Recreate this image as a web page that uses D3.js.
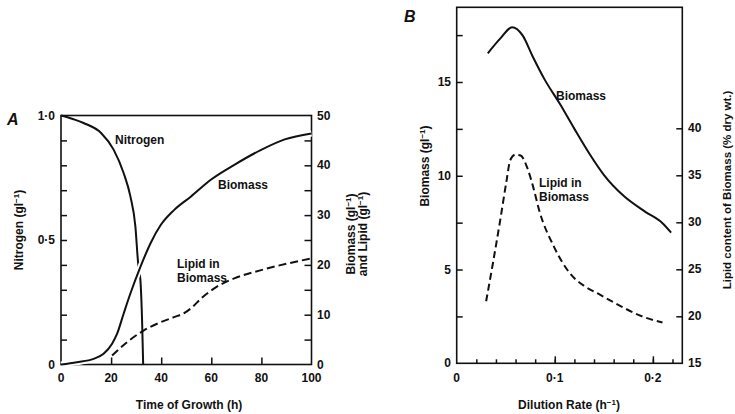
<html>
  <head>
    <meta charset="utf-8">
    <script src="https://cdn.jsdelivr.net/npm/d3@7"></script>
    <style>
      body { margin: 0; background: #fff; }
      text { font-family: "Liberation Sans", Arial, sans-serif; font-weight: bold; font-size: 12px; fill: #111; }
    </style>
    <script>
      // panel A: batch culture
      var timeN = [0, 5, 9, 16, 21, 25, 27.7, 29.7, 30.8, 31.7, 32.4, 32.8];
      var nitrogen = [1.0, 0.985, 0.97, 0.93, 0.863, 0.769, 0.675, 0.554, 0.406, 0.339, 0.165, 0];
      var timeBio = [0, 6.3, 13, 17, 20.4, 22.4, 25, 27.7, 31.7, 35.7, 39.8, 45.1, 51.8, 59.8, 69.2, 79.9, 89.3, 100];
      var biomassA = [0, 0.47, 1.14, 2.15, 4.17, 6.18, 10.2, 14.25, 19.6, 24.3, 28.0, 31.0, 33.7, 37.1, 40.1, 43.1, 45.2, 46.4];
      var timeLip = [20.4, 26.4, 33.1, 39.8, 45.1, 49.8, 52.5, 55.8, 61.2, 69.2, 79.9, 90.6, 100];
      var lipidA = [1.8, 4.5, 6.85, 8.5, 9.5, 10.5, 11.55, 13.2, 15.3, 17.3, 18.95, 20.3, 21.3];

      // panel B: continuous culture
      var dilBio = [0.0317, 0.045, 0.0564, 0.067, 0.0776, 0.09, 0.105, 0.12, 0.135, 0.15, 0.171, 0.192, 0.2098, 0.2186];
      var biomassB = [16.53, 17.35, 17.92, 17.5, 16.35, 15.1, 13.85, 12.5, 11.2, 10.05, 8.89, 8.09, 7.47, 6.97];
      var dilLip = [0.03, 0.037, 0.044, 0.0511, 0.0545, 0.0599, 0.0652, 0.0723, 0.0776, 0.0847, 0.0987, 0.1164, 0.1305, 0.146, 0.1675, 0.1887, 0.2098];
      var lipidB = [21.6, 25.7, 30.0, 34.6, 36.6, 37.2, 37.1, 35.7, 33.9, 31.06, 27.5, 24.45, 23.2, 22.3, 21.06, 20.0, 19.35];

      var ticksTimeA = [0, 20, 40, 60, 80, 100];
      var ticksNitro = [0, 0.5, 1.0];
      var ticksBioA = [0, 10, 20, 30, 40, 50];
      var ticksDil = [0, 0.1, 0.2];
      var ticksBioB = [0, 5, 10, 15];
      var ticksLipB = [15, 20, 25, 30, 35, 40];

      function fmt1(v) { return v.toFixed(1).replace(".", "\u00b7"); }
      var inv = "<tspan dy='-4' style='font-size:8px'>\u22121</tspan><tspan dy='4'>)</tspan>";

      function load() {
        var svg = d3.select("svg");

        function zip(xs, ys) { return xs.map(function(x, i) { return [x, ys[i]]; }); }

        function frame(g, x0, x1, y0, y1) {
          g.append("rect").attr("x", x0).attr("y", y0)
            .attr("width", x1 - x0).attr("height", y1 - y0)
            .attr("fill", "none").attr("stroke", "#111").attr("stroke-width", 1.6);
        }
        function tickStyle(g) {
          g.select(".domain").remove();
          g.selectAll("line").attr("stroke", "#111").attr("stroke-width", 1.5);
        }

        // ---------- Panel A ----------
        var gA = svg.append("g");
        var xA = d3.scaleLinear().domain([0, 100]).range([61, 311.5]);
        var yN = d3.scaleLinear().domain([0, 1]).range([364.5, 115.5]);
        var yB = d3.scaleLinear().domain([0, 50]).range([364.5, 115.5]);

        frame(gA, 61, 311.5, 115.5, 364.5);

        gA.append("g").attr("transform", "translate(0,364.5)")
          .call(d3.axisTop(xA).tickValues([20, 40, 60, 80]).tickSize(7).tickFormat("")).call(tickStyle);
        gA.append("g").attr("transform", "translate(61,0)")
          .call(d3.axisRight(yN).tickValues(d3.range(1, 10).map(function(i) { return i / 10; })).tickSize(6).tickFormat("")).call(tickStyle);
        gA.append("g").attr("transform", "translate(311.5,0)")
          .call(d3.axisLeft(yB).tickValues(d3.range(5, 50, 5)).tickSize(7).tickFormat("")).call(tickStyle);

        gA.selectAll(".tx").data(ticksTimeA).enter().append("text")
          .attr("x", function(d) { return xA(d); }).attr("y", 382)
          .attr("text-anchor", "middle").text(function(d) { return d; });
        gA.selectAll(".tn").data(ticksNitro).enter().append("text")
          .attr("x", 55).attr("y", function(d) { return yN(d) + 4; })
          .attr("text-anchor", "end").text(function(d) { return d === 0 ? "0" : fmt1(d); });
        gA.selectAll(".tb").data(ticksBioA).enter().append("text")
          .attr("x", 317).attr("y", function(d) { return yB(d) + 4; })
          .text(function(d) { return d; });

        gA.append("text").attr("x", 189).attr("y", 409).attr("text-anchor", "middle").text("Time of Growth (h)");
        gA.append("text").attr("transform", "translate(23,230) rotate(-90)").attr("text-anchor", "middle")
          .html("Nitrogen (gl" + inv);
        gA.append("text").attr("transform", "translate(355,234) rotate(-90)").attr("text-anchor", "middle")
          .html("Biomass (gl" + inv);
        gA.append("text").attr("transform", "translate(367,234) rotate(-90)").attr("text-anchor", "middle")
          .html("and Lipid (gl" + inv);
        gA.append("text").attr("x", 7).attr("y", 125).style("font-size", "16px").style("font-style", "italic").text("A");

        var lineN = d3.line().x(function(d) { return xA(d[0]); }).y(function(d) { return yN(d[1]); }).curve(d3.curveMonotoneX);
        var lineBA = d3.line().x(function(d) { return xA(d[0]); }).y(function(d) { return yB(d[1]); }).curve(d3.curveMonotoneX);

        gA.append("path").attr("d", lineN(zip(timeN, nitrogen)))
          .attr("fill", "none").attr("stroke", "#111").attr("stroke-width", 2);
        // white halo makes the break in the nitrogen line
        gA.append("path").attr("d", lineBA(zip(timeBio, biomassA)))
          .attr("fill", "none").attr("stroke", "#fff").attr("stroke-width", 6);
        gA.append("path").attr("d", lineBA(zip(timeBio, biomassA)))
          .attr("fill", "none").attr("stroke", "#111").attr("stroke-width", 2);
        gA.append("path").attr("d", lineBA(zip(timeLip, lipidA)))
          .attr("fill", "none").attr("stroke", "#111").attr("stroke-width", 2).attr("stroke-dasharray", "8,4");

        gA.append("text").attr("x", 115).attr("y", 144).text("Nitrogen");
        gA.append("text").attr("x", 218).attr("y", 189).text("Biomass");
        gA.append("text").attr("x", 177).attr("y", 268).text("Lipid in");
        gA.append("text").attr("x", 177).attr("y", 282).text("Biomass");

        // ---------- Panel B ----------
        var gB = svg.append("g");
        var xD = d3.scaleLinear().domain([0, 0.23]).range([456.7, 682.3]);
        var yBB = d3.scaleLinear().domain([0, 15]).range([363.3, 82]);
        var yL = d3.scaleLinear().domain([15, 40]).range([363.3, 128.3]);

        frame(gB, 456.7, 682.3, 7.3, 363.3);

        gB.append("g").attr("transform", "translate(0,363.3)")
          .call(d3.axisTop(xD).tickValues(d3.range(1, 12).map(function(i) { return i * 0.02; })).tickSize(4).tickFormat("")).call(tickStyle);
        gB.append("g").attr("transform", "translate(0,363.3)")
          .call(d3.axisTop(xD).tickValues([0.1, 0.2]).tickSize(7).tickFormat("")).call(tickStyle);
        gB.append("g").attr("transform", "translate(456.7,0)")
          .call(d3.axisRight(yBB).tickValues([2.5, 5, 7.5, 10, 12.5, 15, 17.5]).tickSize(6).tickFormat("")).call(tickStyle);
        gB.append("g").attr("transform", "translate(682.3,0)")
          .call(d3.axisLeft(yL).tickValues([20, 25, 30, 35, 40]).tickSize(6).tickFormat("")).call(tickStyle);

        gB.selectAll(".tx").data(ticksDil).enter().append("text")
          .attr("x", function(d) { return xD(d); }).attr("y", 382)
          .attr("text-anchor", "middle").text(function(d) { return d === 0 ? "0" : fmt1(d); });
        gB.selectAll(".tl").data(ticksBioB).enter().append("text")
          .attr("x", 451).attr("y", function(d) { return yBB(d) + 4; })
          .attr("text-anchor", "end").text(function(d) { return d; });
        gB.selectAll(".tr").data(ticksLipB).enter().append("text")
          .attr("x", 688).attr("y", function(d) { return yL(d) + 4; })
          .text(function(d) { return d; });

        gB.append("text").attr("x", 569).attr("y", 409).attr("text-anchor", "middle")
          .html("Dilution Rate (h" + inv);
        gB.append("text").attr("transform", "translate(429,166) rotate(-90)").attr("text-anchor", "middle")
          .html("Biomass (gl" + inv);
        gB.append("text").attr("transform", "translate(731,190) rotate(-90)").attr("text-anchor", "middle")
          .style("font-size", "11.5px").text("Lipid content of Biomass (% dry wt.)");
        gB.append("text").attr("x", 404).attr("y", 22).style("font-size", "16px").style("font-style", "italic").text("B");

        var lineBB = d3.line().x(function(d) { return xD(d[0]); }).y(function(d) { return yBB(d[1]); }).curve(d3.curveMonotoneX);
        var lineLB = d3.line().x(function(d) { return xD(d[0]); }).y(function(d) { return yL(d[1]); }).curve(d3.curveMonotoneX);

        gB.append("path").attr("d", lineBB(zip(dilBio, biomassB)))
          .attr("fill", "none").attr("stroke", "#111").attr("stroke-width", 2);
        gB.append("path").attr("d", lineLB(zip(dilLip, lipidB)))
          .attr("fill", "none").attr("stroke", "#111").attr("stroke-width", 2).attr("stroke-dasharray", "7,4");

        gB.append("text").attr("x", 556).attr("y", 100).text("Biomass");
        gB.append("text").attr("x", 539).attr("y", 187).text("Lipid in");
        gB.append("text").attr("x", 539).attr("y", 201).text("Biomass");
      }
    </script>
  </head>
  <body onload="load()">
    <svg width="735" height="414"></svg>
  </body>
</html>
